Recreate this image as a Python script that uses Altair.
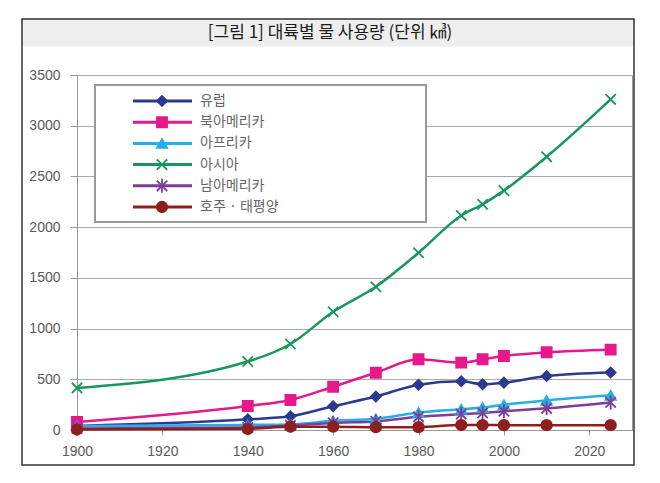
import altair as alt
import pandas as pd

# ---- data ----
years = [1900, 1940, 1950, 1960, 1970, 1980, 1990, 1995, 2000, 2010, 2025]
series_names = ["유럽", "북아메리카", "아프리카", "아시아", "남아메리카", "호주 · 태평양"]
europe = [40, 105, 135, 235, 330, 447, 480, 452, 467, 532, 567]
north_america = [80, 237, 296, 427, 565, 697, 664, 697, 730, 766, 792]
africa = [40, 50, 55, 90, 110, 172, 205, 222, 250, 292, 342]
asia = [415, 675, 848, 1165, 1412, 1747, 2115, 2225, 2360, 2693, 3260]
south_america = [15, 25, 45, 70, 85, 130, 157, 168, 185, 214, 272]
oceania = [5, 12, 33, 33, 28, 28, 49, 49, 48, 48, 48]

title_text = "[그림 1] 대륙별 물 사용량 (단위 ㎦)"
x_ticks = [1900, 1920, 1940, 1960, 1980, 2000, 2020]
y_ticks = [0, 500, 1000, 1500, 2000, 2500, 3000, 3500]

# ---- styles ----
colors = ["#2B3990", "#E6198A", "#22B0E6", "#17985A", "#7D3C98", "#8E1F1F"]
shapes = ["diamond", "square", "triangle-up",
          "M-1,-1L1,1M-1,1L1,-1",
          "M-1,-1L1,1M-1,1L1,-1M0,-1.35L0,1.35",
          "circle"]
sizes = [100, 110, 90, 64, 70, 100]

rows = []
for name, vals in zip(series_names, [europe, north_america, africa, asia, south_america, oceania]):
    for yr, v in zip(years, vals):
        rows.append({"year": yr, "value": v, "series": name})
df = pd.DataFrame(rows)
leg_df = pd.DataFrame({"series": series_names})
one = pd.DataFrame({"t": [title_text]})

color_scale = alt.Scale(domain=series_names, range=colors)
shape_scale = alt.Scale(domain=series_names, range=shapes)
size_scale = alt.Scale(domain=series_names, range=sizes)

label_font = "Liberation Sans"
x_enc = alt.X("year:Q", scale=alt.Scale(domain=[1900, 2030], nice=False, zero=False),
              axis=alt.Axis(values=x_ticks, format="d", title=None, grid=False,
                            labelFontSize=14, labelColor="#5a5a5a", labelFont=label_font,
                            tickColor="#999", tickSize=5, domainColor="#999",
                            labelPadding=9, labelFlush=False))
y_enc = alt.Y("value:Q", scale=alt.Scale(domain=[0, 3500], nice=False),
              axis=alt.Axis(values=y_ticks, format="d", title=None, grid=True,
                            gridColor="#aaa",
                            labelFontSize=14, labelColor="#5a5a5a", labelFont=label_font,
                            tickColor="#999", tickSize=7, domainColor="#999",
                            labelPadding=10, labelFlush=False))

lines = alt.Chart(df).mark_line(strokeWidth=2.5, interpolate="monotone").encode(
    x=x_enc, y=y_enc,
    color=alt.Color("series:N", scale=color_scale, legend=None),
)
points = alt.Chart(df).mark_point(strokeWidth=1.8, opacity=1).encode(
    x=x_enc, y=y_enc,
    fill=alt.Fill("series:N", scale=color_scale, legend=None),
    stroke=alt.Stroke("series:N", scale=color_scale, legend=None),
    shape=alt.Shape("series:N", scale=shape_scale, legend=None),
    size=alt.Size("series:N", scale=size_scale, legend=None),
)
main = alt.layer(lines, points)

# ---- legend (drawn inside the plot, like the original) ----
ly = alt.Y("series:N", scale=alt.Scale(type="point", domain=series_names,
                                       range=[26, 132], padding=0), axis=None)
leg_box = alt.Chart(one).mark_rect(fill="white", stroke="#999", strokeWidth=2).encode(
    x=alt.value(18), x2=alt.value(349), y=alt.value(10), y2=alt.value(147))
leg_rule = alt.Chart(leg_df).mark_rule(strokeWidth=3).encode(
    x=alt.value(56), x2=alt.value(115), y=ly,
    color=alt.Color("series:N", scale=color_scale, legend=None))
leg_pts = alt.Chart(leg_df).mark_point(strokeWidth=1.8, opacity=1).encode(
    x=alt.value(85), y=ly,
    fill=alt.Fill("series:N", scale=color_scale, legend=None),
    stroke=alt.Stroke("series:N", scale=color_scale, legend=None),
    shape=alt.Shape("series:N", scale=shape_scale, legend=None),
    size=alt.Size("series:N", scale=size_scale, legend=None))
leg_txt = alt.Chart(leg_df).mark_text(align="left", baseline="middle", fontSize=14,
                                      font="Noto Sans CJK KR", color="#666").encode(
    x=alt.value(123), y=ly, text="series:N")
legend = alt.layer(leg_box, leg_rule, leg_pts, leg_txt)

# ---- outer frame and title band ----
band = alt.Chart(one).mark_rect(fill="#eeeeee", stroke="#eeeeee").encode(
    x=alt.value(-55), x2=alt.value(557), y=alt.value(-56), y2=alt.value(-29))
frame = alt.Chart(one).mark_rect(fillOpacity=0, stroke="#333", strokeWidth=1.5).encode(
    x=alt.value(-55), x2=alt.value(557), y=alt.value(-56), y2=alt.value(390))
title = alt.Chart(one).mark_text(align="center", baseline="middle", fontSize=17,
                                 font="Noto Sans CJK KR", color="#1a1a1a").encode(
    x=alt.value(253), y=alt.value(-42), text="t:N")
deco = alt.layer(band, frame, title)

chart = alt.layer(deco, main, legend).resolve_scale(y="independent").properties(
    width=555, height=355,
    autosize=alt.AutoSizeParams(type="none"),
    padding={"left": 69, "top": 67, "right": 10, "bottom": 40},
    background="white",
).configure_view(stroke="#999", strokeWidth=1)

chart.save("out.html", embed_options={"renderer": "svg", "actions": False})
